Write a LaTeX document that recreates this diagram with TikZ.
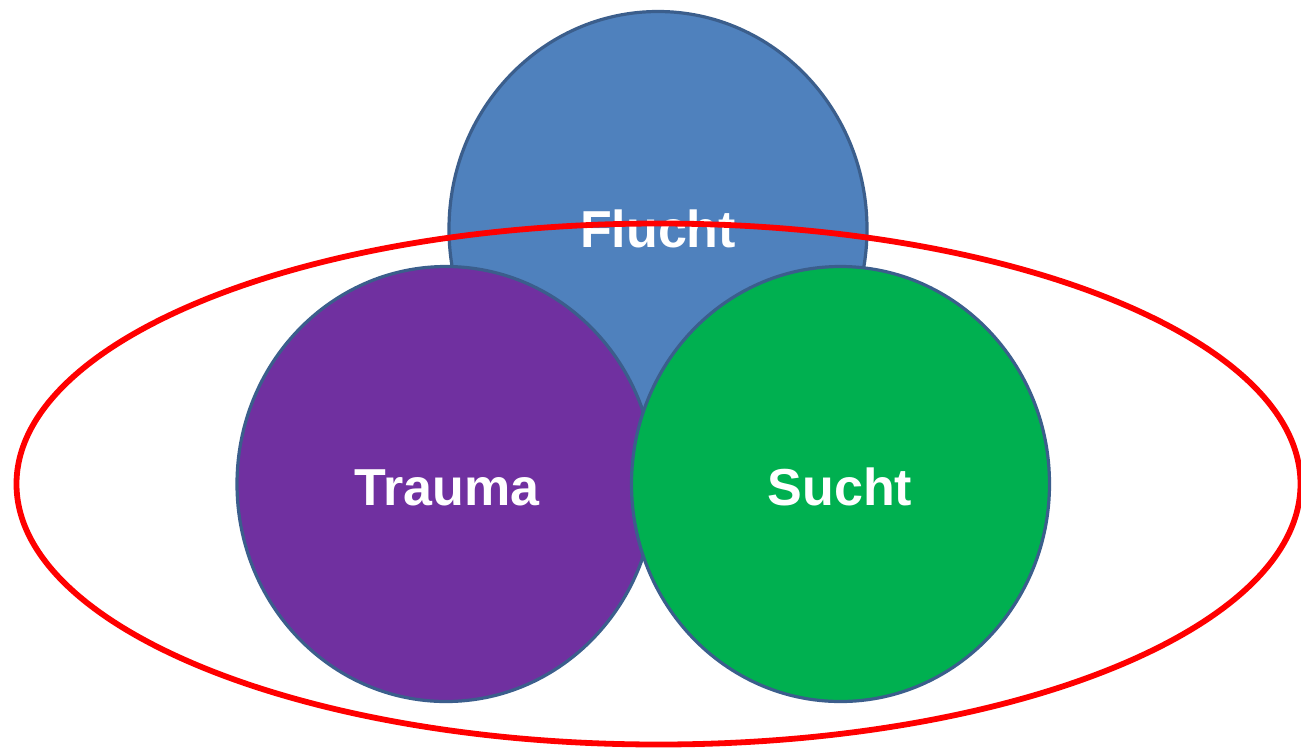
\documentclass[tikz,border=0pt]{standalone}
\usepackage{fontspec}
\setmainfont{Liberation Sans}
\definecolor{fluchtblue}{HTML}{4F81BD}
\definecolor{traumapurple}{HTML}{7030A0}
\definecolor{suchtgreen}{HTML}{00B050}
\definecolor{rimblue}{HTML}{3B5E8C}
\definecolor{ringred}{HTML}{FF0000}
\tikzset{
  blob/.style={draw=rimblue, line width=3.2pt},
  lbl/.style={text=white, font=\fontsize{52}{60}\selectfont\bfseries, anchor=base, inner sep=0pt},
  ring/.style={draw=ringred, line width=5.8pt}
}
\begin{document}
\begin{tikzpicture}[x=1pt,y=-1pt]
\useasboundingbox (0,0) rectangle (1301,748);
\fill[white] (0,0) rectangle (1301,748);
% Flucht
\path[blob, fill=fluchtblue] (658,229) ellipse [x radius=209, y radius=217.5];
\node[lbl] (flucht) at (658,247) {Flucht};
% red ring
\draw[ring] (658.5,484) ellipse [x radius=642, y radius=260.5];
% Trauma
\path[blob, fill=traumapurple] (446,484) ellipse [x radius=209, y radius=217.5];
\node[lbl] (trauma) at (447,505) {Trauma};
% Sucht
\path[blob, fill=suchtgreen] (840.5,484) ellipse [x radius=209, y radius=217.5];
\node[lbl] (sucht) at (840,505) {Sucht};
\end{tikzpicture}
\end{document}
